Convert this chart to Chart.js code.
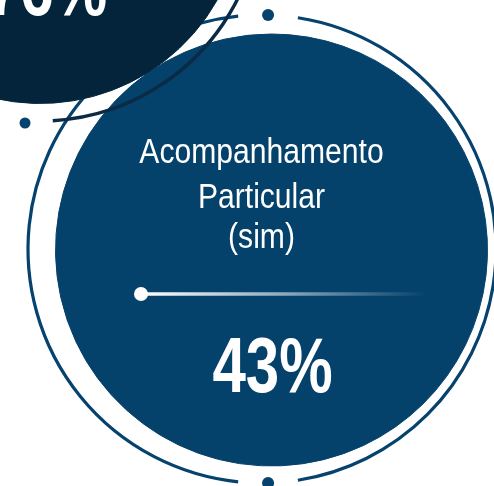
<!DOCTYPE html>
<html>
<head>
<meta charset="utf-8">
<script src="https://cdn.jsdelivr.net/npm/chart.js@4.4.1/dist/chart.umd.min.js"></script>
<style>
  html, body { margin: 0; padding: 0; background: #ffffff; overflow: hidden; }
  #wrap { position: relative; width: 494px; height: 486px; overflow: hidden; }
  #main { position: absolute; left: 0; top: 0; }
  #prev { position: absolute; left: -190px; top: -330px; }
</style>
</head>
<body>
<div id="wrap">
  <canvas id="main" width="494" height="486"></canvas>
  <canvas id="prev" width="460" height="460"></canvas>
</div>
<script>
// data
const labelLines = ['Acompanhamento', 'Particular', '(sim)'];
const shares = [43];        // % answering "sim"
const prevShares = [76];    // previous card, mostly cropped off

const BLUE = '#04416b';
const NAVY = '#03243b';
const RING = '#05426e';
const NAVY_RING = '#0b2a45';
const FONT = "'Liberation Sans', Arial, sans-serif";

function pct(v) { return v + '%'; }

// no narrow font installed, so squeeze the regular one sideways
function narrowText(ctx, text, x, y, font, sx) {
    ctx.save();
    ctx.font = font;
    ctx.textAlign = 'center';
    ctx.textBaseline = 'alphabetic';
    ctx.translate(x, y);
    ctx.scale(sx, 1);
    ctx.fillText(text, 0, 0);
    ctx.restore();
}

const mainDeco = {
    id: 'mainDeco',
    beforeDatasetsDraw(chart) {
        const arc = chart.getDatasetMeta(0).data[0];
        const ctx = chart.ctx;
        const rx = arc.x - 9.5, ry = arc.y - 1, rr = 234;
        const gap = 0.128, tilt = 0.026;
        const top = -Math.PI / 2 + tilt, bottom = Math.PI / 2 - tilt;

        ctx.save();
        ctx.strokeStyle = RING;
        ctx.lineWidth = 3.2;
        ctx.beginPath();
        ctx.arc(rx, ry, rr, top + gap, bottom - gap);
        ctx.stroke();
        ctx.beginPath();
        ctx.arc(rx, ry, rr, bottom + gap, top + 2 * Math.PI - gap);
        ctx.stroke();

        ctx.fillStyle = RING;
        [top, bottom].forEach(a => {
            ctx.beginPath();
            ctx.arc(rx + rr * Math.cos(a), ry + rr * Math.sin(a), 6, 0, Math.PI * 2);
            ctx.fill();
        });
        ctx.beginPath();
        ctx.arc(arc.x - 246.5, arc.y - 127, 5.5, 0, Math.PI * 2);
        ctx.fill();
        ctx.restore();
    },
    afterDatasetsDraw(chart) {
        const arc = chart.getDatasetMeta(0).data[0];
        const ctx = chart.ctx;
        const cx = arc.x, cy = arc.y;

        ctx.save();
        // divider with fading line
        const x0 = cx - 130.5, x1 = cx + 155.5, y = cy + 44;
        const grad = ctx.createLinearGradient(x0, 0, x1, 0);
        grad.addColorStop(0, 'rgba(255,255,255,1)');
        grad.addColorStop(0.5, 'rgba(255,255,255,0.55)');
        grad.addColorStop(1, 'rgba(255,255,255,0)');
        ctx.strokeStyle = grad;
        ctx.lineWidth = 3.5;
        ctx.beginPath();
        ctx.moveTo(x0, y);
        ctx.lineTo(x1, y);
        ctx.stroke();
        ctx.fillStyle = '#ffffff';
        ctx.beginPath();
        ctx.arc(x0, y, 7, 0, Math.PI * 2);
        ctx.fill();

        const base = [-87, -42, -2];
        labelLines.forEach((t, i) => narrowText(ctx, t, cx - 10, cy + base[i], '35px ' + FONT, 0.86));
        narrowText(ctx, pct(shares[0]), cx + 1, cy + 142, 'bold 77px ' + FONT, 0.78);
        ctx.restore();
    }
};

const prevDeco = {
    id: 'prevDeco',
    afterDatasetsDraw(chart) {
        const arc = chart.getDatasetMeta(0).data[0];
        const ctx = chart.ctx;
        ctx.save();
        ctx.strokeStyle = NAVY_RING;
        ctx.lineWidth = 3.5;
        ctx.beginPath();
        ctx.arc(arc.x, arc.y, 221, -0.6, 1.513);
        ctx.stroke();

        ctx.fillStyle = '#ffffff';
        narrowText(ctx, pct(prevShares[0]), arc.x + 7, arc.y + 115, 'bold 77px ' + FONT, 0.78);
        ctx.restore();
    }
};

const baseOptions = {
    responsive: false,
    devicePixelRatio: 1,
    animation: false,
    events: [],
    plugins: { legend: { display: false }, tooltip: { enabled: false } }
};

new Chart(document.getElementById('main'), {
    type: 'pie',
    data: {
        labels: ['sim', 'não'],
        datasets: [{
            data: [shares[0], 100 - shares[0]],
            backgroundColor: [BLUE, BLUE],
            borderColor: BLUE,
            borderWidth: 1
        }]
    },
    options: { ...baseOptions, layout: { padding: { left: 55, right: 6, top: 33, bottom: 19 } } },
    plugins: [mainDeco]
});

new Chart(document.getElementById('prev'), {
    type: 'pie',
    data: {
        labels: ['sim', 'não'],
        datasets: [{
            data: [prevShares[0], 100 - prevShares[0]],
            backgroundColor: [NAVY, NAVY],
            borderColor: NAVY,
            borderWidth: 1
        }]
    },
    options: { ...baseOptions, layout: { padding: 26 } },
    plugins: [prevDeco]
});
</script>
</body>
</html>
